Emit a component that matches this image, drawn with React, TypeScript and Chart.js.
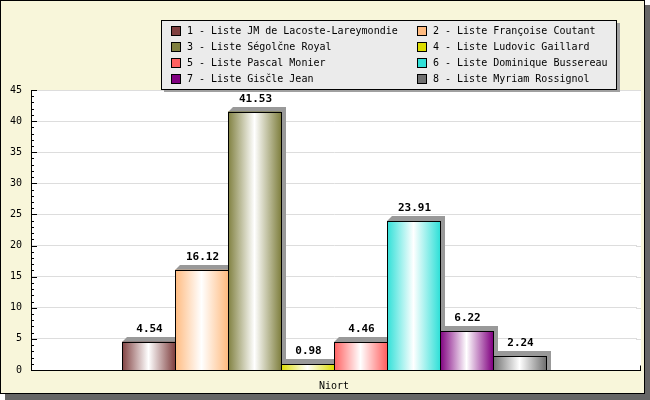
import React, { useEffect, useRef } from 'react';
import { Chart, registerables } from 'chart.js';

Chart.register(...registerables);

const categories = ['Niort'];
const seriesLabels = [
  '1 - Liste JM de Lacoste-Lareymondie',
  '2 - Liste Françoise Coutant',
  '3 - Liste Ségolčne Royal',
  '4 - Liste Ludovic Gaillard',
  '5 - Liste Pascal Monier',
  '6 - Liste Dominique Bussereau',
  '7 - Liste Gisčle Jean',
  '8 - Liste Myriam Rossignol',
];
const seriesValues = [4.54, 16.12, 41.53, 0.98, 4.46, 23.91, 6.22, 2.24];
const seriesColors = ['#804040', '#FFBB80', '#808040', '#DDDD00', '#FF6060', '#30E0D8', '#800080', '#707070'];
const yMin = 0;
const yMax = 45;
const yStep = 5;

const FONT = '"DejaVu Sans Mono", monospace';
const CREAM = '#F8F6DA';
const EXTRA = 4; // plot frame extends a little past the category axis

const decorPlugin = {
  id: 'decor',
  beforeDraw(chart: any) {
    const { ctx, chartArea: a, width, height } = chart;
    ctx.save();
    ctx.fillStyle = '#ffffff';
    ctx.fillRect(0, 0, width, height);
    ctx.fillStyle = '#666666';
    ctx.fillRect(5, 5, width - 5, height - 5);
    ctx.fillStyle = CREAM;
    ctx.fillRect(0, 0, width - 5, height - 6);
    ctx.strokeStyle = '#000';
    ctx.lineWidth = 1;
    ctx.strokeRect(0.5, 0.5, width - 6, height - 7);
    ctx.fillStyle = '#ffffff';
    ctx.fillRect(a.left, a.top, a.right - a.left + EXTRA, a.bottom - a.top);
    // grid extension
    const y = chart.scales.y;
    ctx.strokeStyle = '#DDDDDD';
    for (let v = yMin + yStep; v <= yMax; v += yStep) {
      const py = Math.round(y.getPixelForValue(v)) + 0.5;
      ctx.beginPath();
      ctx.moveTo(a.right - 1, py);
      ctx.lineTo(a.right + EXTRA, py);
      ctx.stroke();
    }
    ctx.restore();
  },
  beforeDatasetsDraw(chart: any) {
    const { ctx } = chart;
    ctx.save();
    ctx.fillStyle = '#999999';
    chart.data.datasets.forEach((_: any, i: number) => {
      const meta = chart.getDatasetMeta(i);
      meta.data.forEach((el: any) => {
        const L = Math.round(el.x - el.width / 2);
        const R = Math.round(el.x + el.width / 2);
        const T = Math.round(el.y);
        const B = Math.round(el.base);
        const d = 5;
        ctx.beginPath();
        ctx.moveTo(L, T);
        ctx.lineTo(L + d, T - d);
        ctx.lineTo(R + d, T - d);
        ctx.lineTo(R + d, B);
        ctx.lineTo(R, B);
        ctx.lineTo(R, T);
        ctx.closePath();
        ctx.fill();
      });
    });
    ctx.restore();
  },
  afterDatasetsDraw(chart: any) {
    const { ctx } = chart;
    ctx.save();
    chart.data.datasets.forEach((ds: any, i: number) => {
      const meta = chart.getDatasetMeta(i);
      meta.data.forEach((el: any, j: number) => {
        const L = Math.round(el.x - el.width / 2);
        const R = Math.round(el.x + el.width / 2);
        const T = Math.round(el.y);
        const B = Math.round(el.base);
        const g = ctx.createLinearGradient(L, 0, R, 0);
        g.addColorStop(0, ds.backgroundColor);
        g.addColorStop(0.5, '#ffffff');
        g.addColorStop(1, ds.backgroundColor);
        ctx.fillStyle = g;
        ctx.fillRect(L, T, R - L, B - T);
        ctx.strokeStyle = '#000';
        ctx.lineWidth = 1;
        ctx.strokeRect(L + 0.5, T + 0.5, R - L, B - T);
        ctx.fillStyle = '#000';
        ctx.font = 'bold 11px ' + FONT;
        ctx.textAlign = 'center';
        ctx.textBaseline = 'alphabetic';
        ctx.fillText(Number(ds.data[j]).toFixed(2), (L + R) / 2 + 1, T - 10);
      });
    });
    ctx.restore();
  },
  afterDraw(chart: any) {
    const { ctx, chartArea: a } = chart;
    const y = chart.scales.y;
    ctx.save();
    ctx.strokeStyle = '#000';
    ctx.lineWidth = 1;
    for (let v = yMin; v <= yMax; v += 1) {
      const py = Math.round(y.getPixelForValue(v)) + 0.5;
      ctx.beginPath();
      ctx.moveTo(a.left, py);
      ctx.lineTo(a.left + (v % yStep === 0 ? 6 : 3), py);
      ctx.stroke();
    }
    const by = Math.round(a.bottom) + 0.5;
    ctx.beginPath();
    ctx.moveTo(a.right - 1, by);
    ctx.lineTo(a.right + EXTRA, by);
    ctx.stroke();
    const rx = Math.round(a.right + EXTRA) - 0.5;
    ctx.beginPath();
    ctx.moveTo(rx, by - 5);
    ctx.lineTo(rx, by);
    ctx.stroke();

    // legend
    const lx = 161, ly = 20, lw = 456, lh = 69;
    ctx.fillStyle = '#A0A0A0';
    ctx.fillRect(lx + 3, ly + 3, lw, lh);
    ctx.fillStyle = '#EBEBEB';
    ctx.fillRect(lx, ly, lw, lh);
    ctx.strokeStyle = '#000';
    ctx.strokeRect(lx + 0.5, ly + 0.5, lw - 1, lh);
    ctx.font = '10px ' + FONT;
    ctx.textAlign = 'left';
    ctx.textBaseline = 'middle';
    chart.data.datasets.forEach((ds: any, i: number) => {
      const col = i % 2;
      const row = Math.floor(i / 2);
      const sx = col ? 417 : 171;
      const sy = 26 + row * 16;
      ctx.fillStyle = ds.backgroundColor;
      ctx.fillRect(sx, sy, 10, 10);
      ctx.strokeStyle = '#000';
      ctx.strokeRect(sx + 0.5, sy + 0.5, 9, 9);
      ctx.fillStyle = '#000';
      ctx.fillText(ds.label, col ? 433 : 187, 31.5 + row * 16);
    });
    ctx.restore();
  },
};

export default function App() {
  const ref = useRef<HTMLCanvasElement>(null);
  useEffect(() => {
    document.body.style.margin = '0';
    const chart = new Chart(ref.current as HTMLCanvasElement, {
      type: 'bar',
      data: {
        labels: categories,
        datasets: seriesLabels.map((label, i) => ({
          label,
          data: [seriesValues[i]],
          backgroundColor: seriesColors[i],
          borderWidth: 0,
          categoryPercentage: 0.6997,
          barPercentage: 1,
        })),
      },
      options: {
        responsive: false,
        animation: false,
        devicePixelRatio: 1,
        layout: { padding: { top: 90, right: 9 + EXTRA, left: 0, bottom: 0 } },
        plugins: { legend: { display: false }, tooltip: { enabled: false } },
        scales: {
          x: {
            afterFit: (s: any) => { s.height = 30; },
            grid: { display: false, drawTicks: false },
            border: { display: true, color: '#000', width: 1 },
            ticks: { color: '#000', font: { family: FONT, size: 10 }, padding: 10 },
          },
          y: {
            min: yMin,
            max: yMax,
            afterFit: (s: any) => { s.width = 31; },
            grid: {
              drawTicks: false,
              color: (c: any) => (c.tick && c.tick.value === 0 ? 'rgba(0,0,0,0)' : '#DDDDDD'),
            },
            border: { display: true, color: '#000', width: 1 },
            ticks: { stepSize: yStep, color: '#000', font: { family: FONT, size: 10 }, padding: 9 },
          },
        },
      },
      plugins: [decorPlugin],
    });
    return () => chart.destroy();
  }, []);
  return (
    <div style={{ width: 650, height: 400, position: 'absolute', left: 0, top: 0 }}>
      <canvas ref={ref} width={650} height={400} />
    </div>
  );
}
